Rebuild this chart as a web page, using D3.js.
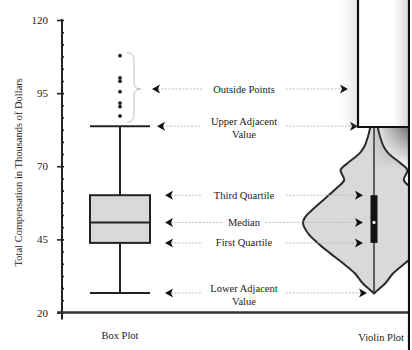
<!DOCTYPE html>
<html>
<head>
<meta charset="utf-8">
<script src="https://cdn.jsdelivr.net/npm/d3@7"></script>
<style>
  html, body { margin: 0; padding: 0; background: #fff; }
  svg { display: block; }
  text { font-family: "Liberation Serif", "DejaVu Serif", serif; fill: #222; }
</style>
</head>
<body>
<svg id="chart" width="412" height="350"></svg>
<script>
// ---- data (thousands of dollars) ----
const categories = ["Box Plot", "Violin Plot"];
const majorTicks = [20, 45, 70, 95, 120];
const boxStats = { lowerAdj: 26.7, q1: 43.8, median: 50.8, q3: 60.1, upperAdj: 83.7 };
const outsidePoints = [107.8, 100.2, 99.1, 95.5, 91.6, 90.4, 87.2];
// violin profile: value and relative density (1 = widest)
const violinValues  = [26.5, 27.6, 30.0, 33.4, 36.9, 40.3, 43.7, 47.1, 50.5, 52.6, 56.0, 59.4, 62.9, 65.3, 68.7, 71.1, 74.5, 77.0, 79.0, 81.5, 84.0, 90.0, 100.0, 108.0];
const violinDensity = [0.00, 0.05, 0.16, 0.27, 0.44, 0.62, 0.79, 0.93, 1.00, 0.97, 0.83, 0.67, 0.51, 0.42, 0.47, 0.37, 0.20, 0.13, 0.10, 0.07, 0.05, 0.03, 0.02, 0.00];
const annotationLabels = [
  ["Outside Points"], ["Upper Adjacent", "Value"], ["Third Quartile"],
  ["Median"], ["First Quartile"], ["Lower Adjacent", "Value"]
];
const annotationValues = [96.4, boxStats.upperAdj, boxStats.q3, boxStats.median, boxStats.q1, boxStats.lowerAdj];
const yTitle = "Total Compensation in Thousands of Dollars";

// ---- scales ----
const svg = d3.select("#chart");
const y = d3.scaleLinear().domain([20, 120]).range([312.5, 20]);
const x = d3.scalePoint().domain(categories).range([120, 374]);
const halfWidth = d3.scaleLinear().domain([0, 1]).range([0, 71]);
const ink = "#222";

// ---- axes ----
const minorTicks = d3.range(0, 25).map(i => 20 + i * 25 / 6);
svg.append("g").attr("transform", "translate(62,0)")
  .call(d3.axisLeft(y).tickValues(minorTicks).tickSize(2).tickFormat(""))
  .call(g => g.select(".domain").remove())
  .call(g => g.selectAll(".tick line").attr("x2", 2).attr("stroke", ink).attr("stroke-width", 1.6));
svg.append("g").attr("transform", "translate(62,0)")
  .call(d3.axisLeft(y).tickValues(majorTicks).tickSize(5).tickPadding(9))
  .call(g => g.select(".domain").remove())
  .call(g => g.selectAll(".tick line").attr("stroke", ink).attr("stroke-width", 1.6))
  .call(g => g.selectAll(".tick text").attr("font-size", 11)
        .attr("font-family", "'Liberation Serif', serif").attr("fill", ink));
svg.append("line").attr("x1", 62).attr("x2", 62).attr("y1", y(120) - 1).attr("y2", y(20) + 7)
  .attr("stroke", ink).attr("stroke-width", 2);
svg.append("line").attr("x1", 57).attr("x2", 409).attr("y1", y(20)).attr("y2", y(20))
  .attr("stroke", "#333").attr("stroke-width", 2.4);

svg.append("text")
  .attr("transform", `translate(22,${(y(20) + y(120)) / 2 + 6}) rotate(-90)`)
  .attr("text-anchor", "middle").attr("font-size", 10.5).text(yTitle);

svg.append("text").attr("x", x("Box Plot")).attr("y", 339)
  .attr("text-anchor", "middle").attr("font-size", 10.5).text("Box Plot");
svg.append("text").attr("x", x("Violin Plot") + 30).attr("y", 341)
  .attr("text-anchor", "end").attr("font-size", 10.5).text("Violin Plot");

// ---- box plot ----
const bx = x("Box Plot"), bw = 60;
const box = svg.append("g");
box.append("line").attr("x1", bx).attr("x2", bx)
  .attr("y1", y(boxStats.lowerAdj)).attr("y2", y(boxStats.upperAdj))
  .attr("stroke", ink).attr("stroke-width", 2);
[boxStats.lowerAdj, boxStats.upperAdj].forEach(v => {
  box.append("line").attr("x1", bx - bw / 2).attr("x2", bx + bw / 2)
    .attr("y1", y(v)).attr("y2", y(v)).attr("stroke", ink).attr("stroke-width", 2);
});
box.append("rect").attr("x", bx - bw / 2).attr("width", bw)
  .attr("y", y(boxStats.q3)).attr("height", y(boxStats.q1) - y(boxStats.q3))
  .attr("fill", "#d9d9d9").attr("stroke", ink).attr("stroke-width", 2);
box.append("line").attr("x1", bx - bw / 2).attr("x2", bx + bw / 2)
  .attr("y1", y(boxStats.median)).attr("y2", y(boxStats.median))
  .attr("stroke", ink).attr("stroke-width", 2);
box.selectAll("circle").data(outsidePoints).join("circle")
  .attr("cx", bx).attr("cy", d => y(d)).attr("r", 1.9).attr("fill", ink);

// brace grouping the outside points
(function () {
  const yT = y(d3.max(outsidePoints)) - 3, yB = y(boxStats.upperAdj) - 4;
  const yM = y(annotationValues[0]);
  const x0 = 127, xm = 134, tip = 141;
  const p = `M${x0},${yT} Q${xm},${yT} ${xm},${yT + 8} L${xm},${yM - 6} Q${xm},${yM} ${tip},${yM}
             Q${xm},${yM} ${xm},${yM + 6} L${xm},${yB - 8} Q${xm},${yB} ${x0},${yB}`;
  svg.append("path").attr("d", p).attr("fill", "none").attr("stroke", "#bdbdbd").attr("stroke-width", 1);
})();

// ---- violin plot ----
const vx = x("Violin Plot");
const violinData = violinValues.map((v, i) => ({ v, d: violinDensity[i] }));
const defs = svg.append("defs");
defs.append("clipPath").attr("id", "plotclip")
  .append("rect").attr("x", 0).attr("y", 0).attr("width", 408).attr("height", 350);
const vg = svg.append("g").attr("clip-path", "url(#plotclip)");
vg.append("path").datum(violinData)
  .attr("d", d3.area().curve(d3.curveCatmullRom)
    .y(d => y(d.v)).x0(d => vx - halfWidth(d.d)).x1(d => vx + halfWidth(d.d)))
  .attr("fill", "#d9d9d9").attr("stroke", "#2a2a2a").attr("stroke-width", 2);
vg.append("line").attr("x1", vx).attr("x2", vx)
  .attr("y1", y(boxStats.lowerAdj)).attr("y2", y(d3.max(violinValues)))
  .attr("stroke", "#333").attr("stroke-width", 1.5);
vg.append("rect").attr("x", vx - 3.5).attr("width", 7)
  .attr("y", y(boxStats.q3)).attr("height", y(boxStats.q1) - y(boxStats.q3)).attr("fill", "#111");
vg.append("circle").attr("cx", vx).attr("cy", y(boxStats.median)).attr("r", 1.6).attr("fill", "#fff");

// ---- annotations ----
const arrowTriangle = (g, tipX, ty, dir) => {
  const s = 8, h = 4.5;
  g.append("path")
    .attr("d", `M${tipX},${ty} L${tipX - dir * s},${ty - h} L${tipX - dir * (s - 2)},${ty} L${tipX - dir * s},${ty + h} Z`)
    .attr("fill", "#111");
};
const leftTips  = [152, 157, 165, 165, 165, 165];
const rightTips = [348, 358, 363, 363, 363, 367];
const textCx = 244;
const ann = svg.append("g");
annotationLabels.forEach((lines, i) => {
  const ay = y(annotationValues[i]);
  const two = lines.length > 1;
  const halfText = d3.max(lines, l => l.length) * 2.55 + 6;
  ann.append("line").attr("x1", leftTips[i] + 6).attr("x2", textCx - halfText)
    .attr("y1", ay).attr("y2", ay).attr("stroke", "#b5b5b5").attr("stroke-width", 0.9)
    .attr("stroke-dasharray", "2,1.5");
  ann.append("line").attr("x1", textCx + halfText).attr("x2", rightTips[i] - 6)
    .attr("y1", ay).attr("y2", ay).attr("stroke", "#b5b5b5").attr("stroke-width", 0.9)
    .attr("stroke-dasharray", "2,1.5");
  arrowTriangle(ann, leftTips[i], ay, -1);
  arrowTriangle(ann, rightTips[i], ay, 1);
  lines.forEach((l, j) => {
    ann.append("text").attr("x", textCx)
      .attr("y", ay + 3.5 + (two ? (j === 0 ? -4.5 : 8.5) : 0))
      .attr("text-anchor", "middle").attr("font-size", 10.5).text(l);
  });
});

// ---- overlapping panel, its shadow and the frame on the right ----
const panelTop = -2, panelBottom = 127, panelLeft = 358, frameX = 409;

const gH = defs.append("linearGradient").attr("id", "shadeRight").attr("x1", 0).attr("y1", 0).attr("x2", 1).attr("y2", 0);
gH.append("stop").attr("offset", 0).attr("stop-color", "#555").attr("stop-opacity", 0);
gH.append("stop").attr("offset", 1).attr("stop-color", "#555").attr("stop-opacity", 0.85);
const gV = defs.append("linearGradient").attr("id", "fadeDown").attr("x1", 0).attr("y1", 0).attr("x2", 0).attr("y2", 1);
gV.append("stop").attr("offset", 0).attr("stop-color", "#fff");
gV.append("stop").attr("offset", 1).attr("stop-color", "#000");
defs.append("mask").attr("id", "shadowMask")
  .append("rect").attr("x", 370).attr("y", panelBottom).attr("width", frameX - 370).attr("height", 42)
  .attr("fill", "url(#fadeDown)");
svg.append("rect").attr("x", 370).attr("y", panelBottom).attr("width", frameX - 370).attr("height", 42)
  .attr("fill", "url(#shadeRight)").attr("mask", "url(#shadowMask)");

const gL = defs.append("linearGradient").attr("id", "shadeLeft").attr("x1", 0).attr("y1", 0).attr("x2", 1).attr("y2", 0);
gL.append("stop").attr("offset", 0).attr("stop-color", "#999").attr("stop-opacity", 0);
gL.append("stop").attr("offset", 1).attr("stop-color", "#999").attr("stop-opacity", 0.22);
svg.append("rect").attr("x", panelLeft - 18).attr("y", 0).attr("width", 18).attr("height", panelBottom)
  .attr("fill", "url(#shadeLeft)");

const gI = defs.append("linearGradient").attr("id", "shadeInner").attr("x1", 0).attr("y1", 0).attr("x2", 1).attr("y2", 0);
gI.append("stop").attr("offset", 0.7).attr("stop-color", "#888").attr("stop-opacity", 0);
gI.append("stop").attr("offset", 1).attr("stop-color", "#888").attr("stop-opacity", 0.35);
svg.append("rect").attr("x", panelLeft).attr("y", panelTop).attr("width", frameX - panelLeft).attr("height", panelBottom - panelTop)
  .attr("fill", "#fff");
svg.append("rect").attr("x", panelLeft).attr("y", panelTop).attr("width", frameX - panelLeft).attr("height", panelBottom - panelTop)
  .attr("fill", "url(#shadeInner)");
svg.append("path").attr("d", `M${panelLeft},${panelTop} L${panelLeft},${panelBottom} L${frameX},${panelBottom}`)
  .attr("fill", "none").attr("stroke", "#111").attr("stroke-width", 2.2);
svg.append("line").attr("x1", frameX).attr("x2", frameX).attr("y1", 0).attr("y2", 350)
  .attr("stroke", "#111").attr("stroke-width", 2.2);
svg.append("rect").attr("x", frameX + 1.1).attr("y", 0).attr("width", 412 - frameX).attr("height", 350).attr("fill", "#fff");
</script>
</body>
</html>
